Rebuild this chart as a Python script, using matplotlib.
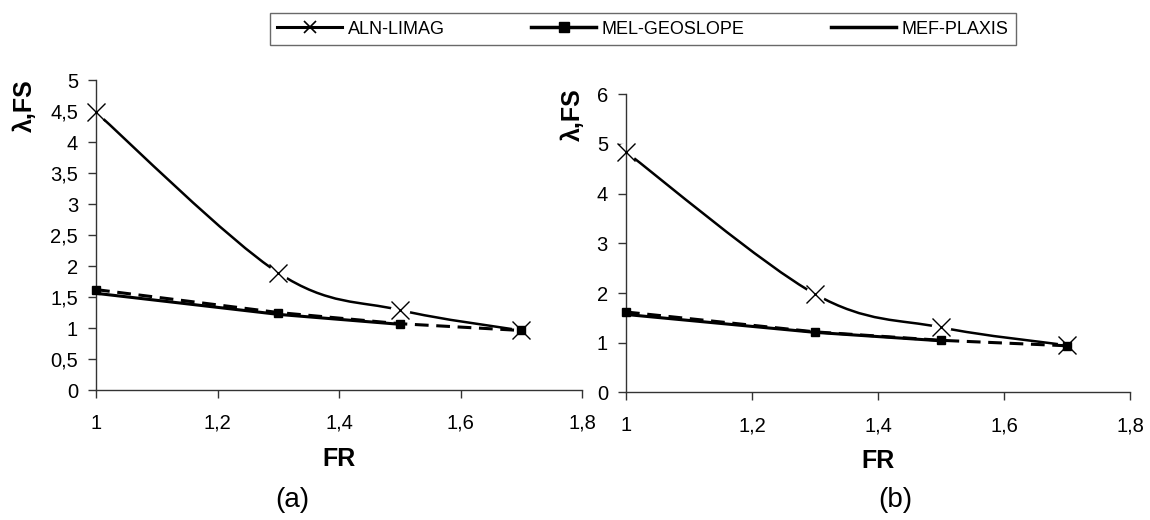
import numpy as np
import matplotlib.pyplot as plt
from matplotlib.path import Path
from matplotlib.patches import PathPatch
from matplotlib.lines import Line2D
from matplotlib.ticker import FuncFormatter, MultipleLocator

plt.rcParams['font.family'] = ['Liberation Sans', 'DejaVu Sans']

# values
fr = [1.0, 1.3, 1.5, 1.7]
fr_plx = [1.0, 1.3, 1.5]

aln_a = [4.48, 1.89, 1.29, 0.96]
geo_a = [1.62, 1.25, 1.07, 0.96]
plx_a = [1.56, 1.22, 1.06]

aln_b = [4.84, 1.98, 1.31, 0.95]
geo_b = [1.62, 1.22, 1.05, 0.94]
plx_b = [1.57, 1.21, 1.04]

names = ["ALN-LIMAG", "MEL-GEOSLOPE", "MEF-PLAXIS"]


def smooth_path(x, y):
    # Catmull-Rom style bezier through the points (like Excel smoothed lines)
    pts = np.column_stack([x, y])
    ext = np.vstack([pts[0], pts, pts[-1]])
    verts = [pts[0]]
    codes = [Path.MOVETO]
    for i in range(len(pts) - 1):
        p0, p1, p2, p3 = ext[i], ext[i + 1], ext[i + 2], ext[i + 3]
        verts += [p1 + (p2 - p0) / 6, p2 - (p3 - p1) / 6, p2]
        codes += [Path.CURVE4] * 3
    return Path(verts, codes)


def comma(v, pos):
    return ("%g" % round(v, 2)).replace(".", ",")


def draw(ax, aln, geo, plx, ymax, ystep):
    ax.add_patch(PathPatch(smooth_path(fr, aln), facecolor="none",
                           edgecolor="black", lw=1.8, zorder=2))
    ax.plot(fr, aln, "o", ms=14, mfc="white", mec="none", zorder=2.5, clip_on=False)
    ax.plot(fr, aln, "x", ms=13, mew=1.0, color="black", zorder=3, clip_on=False)

    ax.plot(fr, geo, color="black", lw=2.2, dashes=(4.5, 2.5), zorder=4,
            marker="s", ms=5.5, clip_on=False)
    ax.plot(fr_plx, plx, color="black", lw=2.2, zorder=4, clip_on=False)

    ax.set_xlim(1, 1.8)
    ax.set_ylim(0, ymax)
    ax.xaxis.set_major_locator(MultipleLocator(0.2))
    ax.yaxis.set_major_locator(MultipleLocator(ystep))
    ax.xaxis.set_major_formatter(FuncFormatter(comma))
    ax.yaxis.set_major_formatter(FuncFormatter(comma))

    for s in ["top", "right"]:
        ax.spines[s].set_visible(False)
    for s in ["left", "bottom"]:
        ax.spines[s].set_color("#333333")
        ax.spines[s].set_linewidth(1.0)

    ax.tick_params(axis="both", direction="out", length=6, width=1,
                   color="#333333", labelsize=14.5)
    ax.tick_params(axis="x", pad=11)
    ax.tick_params(axis="y", pad=7)
    ax.set_xlabel("FR", fontsize=18, fontweight="bold", labelpad=10)


fig = plt.figure(figsize=(11.5, 5.2), dpi=100)
ax1 = fig.add_axes([0.0835, 0.25, 0.4226, 0.596])
ax2 = fig.add_axes([0.5443, 0.2452, 0.4383, 0.5735])

draw(ax1, aln_a, geo_a, plx_a, 5, 0.5)
draw(ax2, aln_b, geo_b, plx_b, 6, 1)

fig.text(25 / 1150, 1 - 106 / 520, "λ,FS", rotation=90, fontsize=18,
         fontweight="bold", ha="center", va="center")
fig.text(573 / 1150, 1 - 115 / 520, "λ,FS", rotation=90, fontsize=18,
         fontweight="bold", ha="center", va="center")

fig.text(292 / 1150, 1 - 500 / 520, "(a)", fontsize=20, ha="center", va="center")
fig.text(895 / 1150, 1 - 500 / 520, "(b)", fontsize=20, ha="center", va="center")

handles = [
    Line2D([], [], color="black", lw=2.2, marker="x", ms=9, mew=1.2),
    Line2D([], [], color="black", lw=2.5, marker="s", ms=7),
    Line2D([], [], color="black", lw=2.5),
]
leg = fig.legend(handles, names, loc="center", ncol=3,
                 bbox_to_anchor=(643 / 1150, 1 - 29 / 520),
                 fontsize=13, handlelength=3.6, handletextpad=0.3,
                 columnspacing=4.8, frameon=True, fancybox=False,
                 borderpad=0.4, borderaxespad=0)
leg.get_frame().set_edgecolor("#444444")
leg.get_frame().set_linewidth(1.0)

plt.savefig("out.png", dpi=100)
plt.close()
